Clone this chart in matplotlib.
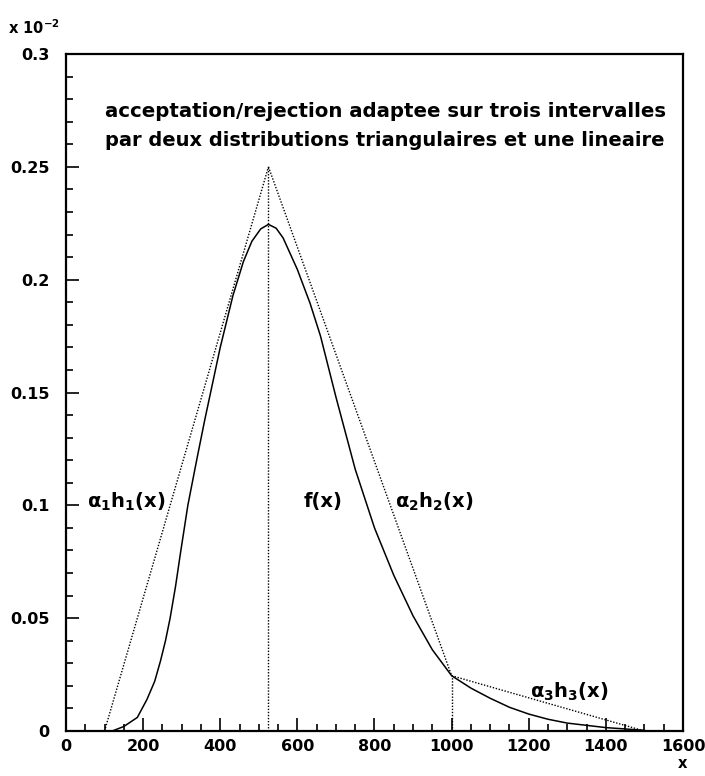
import numpy as np
import matplotlib
matplotlib.use('Agg')
import matplotlib.pyplot as plt
from matplotlib.ticker import MultipleLocator, FormatStrFormatter

# f(x) (y in units of 1e-2)
fx = [120, 150, 185, 210, 230, 245, 258, 270, 284, 297, 316, 340, 360, 400,
      433, 460, 482, 505, 525, 545, 563, 600, 633, 660, 700, 750, 800, 850,
      900, 950, 1000, 1050, 1100, 1150, 1200, 1250, 1300, 1400, 1500]
fy = [0.0, 0.002, 0.006, 0.014, 0.022, 0.031, 0.040, 0.050, 0.064, 0.079,
      0.100, 0.121, 0.138, 0.170, 0.193, 0.208, 0.217, 0.2225, 0.2245,
      0.2228, 0.2185, 0.2045, 0.1895, 0.175, 0.148, 0.116, 0.090, 0.069,
      0.051, 0.036, 0.0245, 0.019, 0.0145, 0.0105, 0.0075, 0.0052, 0.0035,
      0.0015, 0.0003]

# envelope pieces alpha_i h_i(x)
h1x = [100, 525]
h1y = [0.0, 0.25]
h2x = [525, 1000]
h2y = [0.25, 0.0245]
h3x = [1000, 1500]
h3y = [0.0245, 0.0]

# interval boundaries
cutx = [525, 1000]
cuty = [0.25, 0.0245]

title = ["acceptation/rejection adaptee sur trois intervalles",
         "par deux distributions triangulaires et une lineaire"]

plt.rcParams['font.family'] = ['DejaVu Sans']
plt.rcParams['font.weight'] = 'bold'

fig = plt.figure(figsize=(7.05, 7.76), dpi=100)
ax = fig.add_axes([0.0936, 0.058, 0.8752, 0.8724])

dot = (0, (1, 1.2))
ax.plot(fx, fy, color='black', lw=1.1)
ax.plot(h1x, h1y, color='black', lw=1.0, linestyle=dot)
ax.plot(h2x, h2y, color='black', lw=1.0, linestyle=dot)
ax.plot(h3x, h3y, color='black', lw=1.0, linestyle=dot)
for cx, cy in zip(cutx, cuty):
    ax.plot([cx, cx], [0, cy], color='black', lw=1.0, linestyle=dot)

ax.set_xlim(0, 1600)
ax.set_ylim(0, 0.3)
ax.xaxis.set_major_locator(MultipleLocator(200))
ax.xaxis.set_minor_locator(MultipleLocator(50))
ax.yaxis.set_major_locator(MultipleLocator(0.05))
ax.yaxis.set_minor_locator(MultipleLocator(0.01))
ax.xaxis.set_major_formatter(FormatStrFormatter('%g'))
ax.yaxis.set_major_formatter(FormatStrFormatter('%g'))
ax.tick_params(which='major', direction='in', length=9.5, width=1.2,
               labelsize=11.5, pad=6)
ax.tick_params(which='minor', direction='in', length=4.7, width=1.2)
ax.tick_params(axis='y', which='major', pad=12)
ax.tick_params(top=False, right=False)
for s in ax.spines.values():
    s.set_linewidth(1.6)

ax.text(100, 0.2745, title[0], fontsize=14.2, fontweight='bold', va='center')
ax.text(100, 0.2615, title[1], fontsize=14.0, fontweight='bold', va='center')

lab = dict(fontsize=14, fontweight='bold', va='center')
ax.text(54, 0.1015, r'α$_\mathbf{1}$h$_\mathbf{1}$(x)', **lab)
ax.text(615, 0.1015, 'f(x)', **lab)
ax.text(853, 0.1015, r'α$_\mathbf{2}$h$_\mathbf{2}$(x)', **lab)
ax.text(1203, 0.0173, r'α$_\mathbf{3}$h$_\mathbf{3}$(x)', **lab)

fig.text(0.012, 0.965, r'x 10$^{-2}$', fontsize=10.5, fontweight='bold',
         va='center')
fig.text(0.962, 0.010, 'x', fontsize=10.5, fontweight='bold')

fig.savefig('out.png', dpi=100)
